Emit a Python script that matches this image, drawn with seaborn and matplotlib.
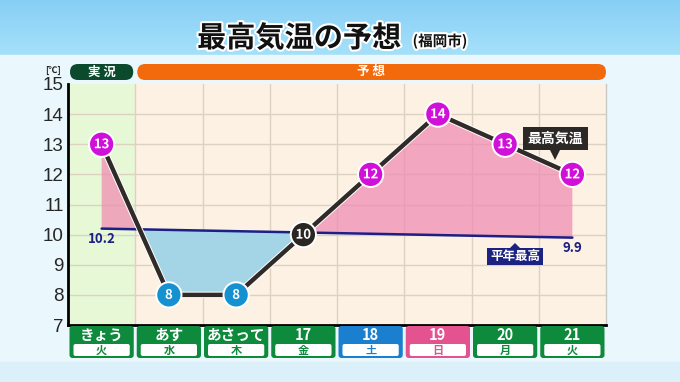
import matplotlib
matplotlib.use("Agg")
import matplotlib.pyplot as plt
import matplotlib.patheffects as pe
from matplotlib.patches import FancyBboxPatch, Polygon, Rectangle
import numpy as np
import pandas as pd
import seaborn as sns

# data
days = ["きょう", "あす", "あさって", "17", "18", "19", "20", "21"]
weekdays = ["火", "水", "木", "金", "土", "日", "月", "火"]
max_temp = [13, 8, 8, 10, 12, 14, 13, 12]
normal_ends = [10.2, 9.9]   # 平年最高, first and last day

W, H = 680, 382
sns.set_theme(style="white")
plt.rcParams["font.family"] = ["Noto Sans CJK JP", "DejaVu Sans"]

fig = plt.figure(figsize=(W / 100, H / 100), dpi=100)

# background bands (pixel coords, y down)
bg = fig.add_axes([0, 0, 1, 1], zorder=-10)
bg.set_axis_off()
bg.set_xlim(0, W)
bg.set_ylim(H, 0)
grad = np.linspace(0, 1, 200)[:, None]
bg.imshow(np.dstack([0.53 + 0.12 * grad, 0.81 + 0.07 * grad, 0.96 + 0.02 * grad]),
          extent=[0, W, 55, 0], aspect="auto")
bg.add_patch(Rectangle((0, 55), W, 307, color="#eaf7fd"))
bg.add_patch(Rectangle((0, 362), W, 20, color="#dcf0fa"))
bg.set_xlim(0, W)
bg.set_ylim(H, 0)

ax = fig.add_axes([68 / W, 1 - 325 / H, (606 - 68) / W, (325 - 84) / H])
pos = np.arange(len(days)) + 0.5
df = pd.DataFrame({"x": pos, "temp": max_temp})

ax.axvspan(0, 1, color="#e6f8d6", zorder=0)
ax.axvspan(1, 8, color="#fdf1e3", zorder=0)
for v in range(1, 8):
    ax.axvline(v, color="#ddd2c2", lw=1, zorder=1)
for h in range(8, 15):
    ax.axhline(h, color="#ddd2c2", lw=1, zorder=1)

# fill between max temp and normal
xs = np.linspace(pos[0], pos[-1], 800)
y1 = np.interp(xs, pos, max_temp)
y2 = np.interp(xs, [pos[0], pos[-1]], normal_ends)
ax.fill_between(xs, y1, y2, where=y1 >= y2, interpolate=True, color="#f08ab2", alpha=0.72, lw=0, zorder=2)
ax.fill_between(xs, y1, y2, where=y1 < y2, interpolate=True, color="#a4d5e6", lw=0, zorder=2)

ax.plot([pos[0], pos[-1]], normal_ends, color="#1c1f85", lw=1.8, zorder=3)

sns.lineplot(data=df, x="x", y="temp", ax=ax, color="#302b28", lw=3.2, zorder=4,
             path_effects=[pe.Stroke(linewidth=4.6, foreground="white"), pe.Normal()])


def marker_color(t):
    if t <= 8:
        return "#1590d0"
    if t == 10:
        return "#2a2624"
    return "#d010d8"


sns.scatterplot(data=df, x="x", y="temp", ax=ax, s=330, c=[marker_color(t) for t in max_temp],
                edgecolor="white", linewidth=1.4, zorder=5, legend=False)
for x, t in zip(pos, max_temp):
    ax.text(x, t, str(t), ha="center", va="center", color="white", fontsize=9.5,
            fontweight="bold", zorder=6,
            path_effects=[pe.withStroke(linewidth=1.5, foreground=marker_color(t))])

ax.text(pos[0], normal_ends[0] - 0.12, "10.2", ha="center", va="top", color="#1c1f85", fontsize=9.5, fontweight="bold")
ax.text(pos[-1], normal_ends[1] - 0.12, "9.9", ha="center", va="top", color="#1c1f85", fontsize=9.5, fontweight="bold")

ax.set_xlim(0, 8)
ax.set_ylim(7, 15)
ax.set_xlabel("")
ax.set_ylabel("")
ax.set_xticks(range(9))
ax.set_xticklabels([])
ax.set_yticks(range(7, 16))
ax.tick_params(axis="y", direction="in", length=13, width=2, color="black", labelsize=13.5, pad=3)
ax.tick_params(axis="x", direction="in", length=6, width=1.5, color="black")
for lab in ax.get_yticklabels():
    lab.set_family(["Liberation Sans", "DejaVu Sans"])
ax.spines["left"].set_linewidth(2)
ax.spines["bottom"].set_linewidth(2)
ax.spines["left"].set_color("black")
ax.spines["bottom"].set_color("black")
ax.spines["top"].set_visible(False)
ax.spines["right"].set_color("#c8c8c8")
ax.spines["right"].set_linewidth(1)

# overlay in image pixels for the decorations
ov = fig.add_axes([0, 0, 1, 1], zorder=10)
ov.set_axis_off()
ov.patch.set_visible(False)
ov.set_xlim(0, W)
ov.set_ylim(H, 0)
fig.canvas.draw()


def col_px(x):
    return ax.transData.transform((x, 7))[0]


# day boxes under the axis
box_cols = ["#0e8a3c"] * 8
box_cols[4] = "#1a7fcf"
box_cols[5] = "#e4528f"
for i, (d, wd) in enumerate(zip(days, weekdays)):
    xa, xb = col_px(i) + 1.5, col_px(i + 1) - 1.5
    ov.add_patch(FancyBboxPatch((xa, 326), xb - xa, 32, boxstyle="round,pad=0,rounding_size=3",
                                fc=box_cols[i], ec="none"))
    ov.add_patch(FancyBboxPatch((xa + 4, 344), xb - xa - 8, 12, boxstyle="round,pad=0,rounding_size=2",
                                fc="white", ec="none"))
    ov.text((xa + xb) / 2, 335, d, ha="center", va="center",
            color="white", fontsize=10.5, fontweight="bold")
    ov.text((xa + xb) / 2, 350.5, wd, ha="center", va="center",
            color=box_cols[i], fontsize=8, fontweight="bold")

# header pills
ov.add_patch(FancyBboxPatch((70, 64), col_px(1) - 72, 16, boxstyle="round,pad=0,rounding_size=8",
                            fc="#0b4a2c", ec="none"))
ov.add_patch(FancyBboxPatch((col_px(1) + 2, 64), col_px(8) - col_px(1) - 2, 16,
                            boxstyle="round,pad=0,rounding_size=8", fc="#f36a0c", ec="none"))
ov.text((col_px(0) + col_px(1)) / 2, 72, "実 況", ha="center", va="center", color="white",
        fontsize=9, fontweight="bold")
ov.text((col_px(1) + col_px(8)) / 2, 72, "予 想", ha="center", va="center", color="white",
        fontsize=9, fontweight="bold")
ov.text(53, 70, "[℃]", ha="center", va="center", fontsize=6.5, fontweight="bold", color="#222")


# callouts
def callout(x0, y0, x1, y1, tip, text, fc, fs):
    ov.add_patch(Rectangle((x0, y0), x1 - x0, y1 - y0, fc=fc, ec="none"))
    tx, ty = tip
    base = y1 if ty > y1 else y0
    ov.add_patch(Polygon([(tx - 5, base), (tx + 5, base), (tx, ty)], closed=True, fc=fc, ec="none"))
    ov.text((x0 + x1) / 2, (y0 + y1) / 2, text, ha="center", va="center",
            color="white", fontsize=fs, fontweight="bold")


callout(523, 127, 588, 150, (555, 160), "最高気温", "#2b2826", 10)
callout(487, 248, 543, 265, (515, 243), "平年最高", "#1c2282", 9)

# title
title_fx = [pe.withStroke(linewidth=3, foreground="white")]
ov.text(299, 38, "最高気温の予想", ha="center", va="center", fontsize=21,
        fontweight="bold", color="#111", path_effects=title_fx)
ov.text(440, 41, "(福岡市)", ha="center", va="center", fontsize=10.5,
        fontweight="bold", color="#111", path_effects=title_fx)

fig.savefig("out.png", dpi=100, facecolor="#eaf7fd")
